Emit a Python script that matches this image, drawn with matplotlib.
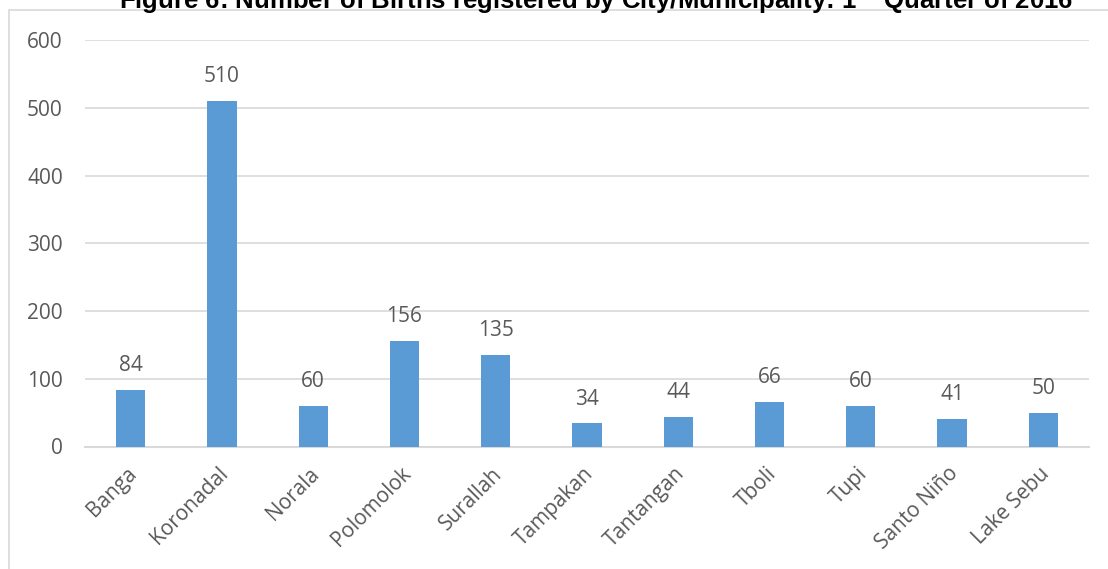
import matplotlib.pyplot as plt
from matplotlib.patches import Rectangle
from matplotlib.transforms import ScaledTranslation

# Births registered per city/municipality
municipalities = ["Banga", "Koronadal", "Norala", "Polomolok", "Surallah", "Tampakan",
                  "Tantangan", "Tboli", "Tupi", "Santo Niño", "Lake Sebu"]
births = [84, 510, 60, 156, 135, 34, 44, 66, 60, 41, 50]
y_ticks = [0, 100, 200, 300, 400, 500, 600]

BAR = "#5b9bd5"
GRID = "#d9d9d9"
TXT = "#595959"
W, H = 1108, 569

fig = plt.figure(figsize=(W / 100, H / 100), dpi=100)
plt.rcParams["font.family"] = ["Open Sans", "DejaVu Sans"]

# chart frame (only left/top edges fall inside the picture)
fig.patches.append(Rectangle((8.5 / W, -0.1), 1.2, 1.1 - 10.5 / H, transform=fig.transFigure,
                             fill=False, edgecolor=GRID, linewidth=1.2))

ax = fig.add_axes([85 / W, 1 - 446.5 / H, (1089 - 85) / W, (446.5 - 40) / H])
x = range(len(municipalities))
ax.bar(x, births, width=0.32, color=BAR, zorder=3)
for xi, v in zip(x, births):
    ax.text(xi, v + 20, str(v), ha="center", va="bottom", fontsize=15, color=TXT)

ax.set_xlim(-0.5, len(municipalities) - 0.5)
ax.set_ylim(0, 600)
ax.set_yticks(y_ticks)
ax.set_yticklabels([str(t) for t in y_ticks], fontsize=15, color=TXT)
ax.set_xticks(list(x))
ax.set_xticklabels(municipalities, rotation=45, ha="right", rotation_mode="anchor",
                   fontsize=15, color=TXT)
ax.tick_params(axis="both", length=0)
ax.tick_params(axis="y", pad=16)
ax.tick_params(axis="x", pad=12)
shift = ScaledTranslation(-4 / 100, 0, fig.dpi_scale_trans)
for lbl in ax.get_xticklabels():
    lbl.set_transform(lbl.get_transform() + shift)
ax.grid(axis="y", color=GRID, linewidth=1.2, zorder=0)
for s in ["top", "right", "left"]:
    ax.spines[s].set_visible(False)
ax.spines["bottom"].set_color(GRID)
ax.spines["bottom"].set_linewidth(1.5)

fig.text(596 / W, 1 - 9.5 / H,
         r"Figure 6: Number of Births registered by City/Municipality: 1$^{\mathbf{st}}$ Quarter of 2016",
         ha="center", va="baseline", fontsize=18.5, fontweight="bold",
         family=["Liberation Sans", "DejaVu Sans"])

fig.savefig("out.png", dpi=100)
